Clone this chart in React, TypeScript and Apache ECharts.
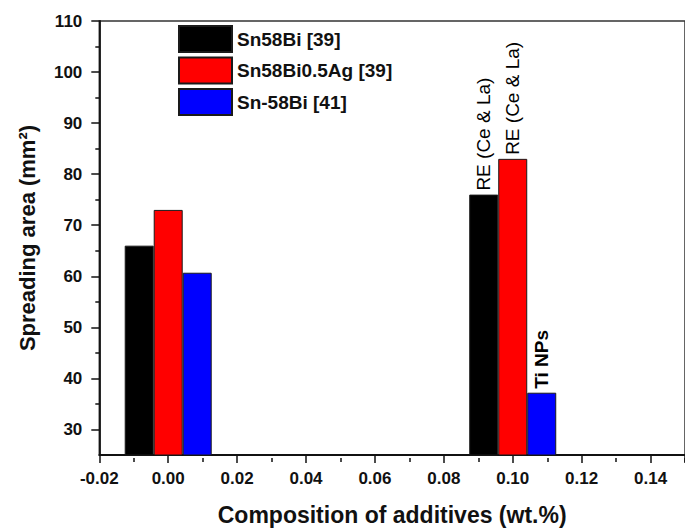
import React, { useEffect, useRef } from 'react';
import * as echarts from 'echarts';

const compositions = [0, 0.1];
const seriesNames = ['Sn58Bi [39]', 'Sn58Bi0.5Ag [39]', 'Sn-58Bi [41]'];
const sn58Bi39 = [66, 76];
const sn58BiAg39 = [73, 83];
const sn58Bi41 = [60.7, 37.2];
const notesSn58Bi39 = ['', 'RE (Ce & La)'];
const notesSn58BiAg39 = ['', 'RE (Ce & La)'];
const notesSn58Bi41 = ['', 'Ti NPs'];
const xTickValues = [-0.02, 0, 0.02, 0.04, 0.06, 0.08, 0.1, 0.12, 0.14];
const yTickValues = [30, 40, 50, 60, 70, 80, 90, 100, 110];
const yMinorTickValues = [35, 45, 55, 65, 75, 85, 95, 105];

const FONT = 'Arial, "Liberation Sans", Helvetica, sans-serif';
const X_MIN = -0.02;
const X_MAX = 0.15;
const X_STEP = 0.02;
const X_MINOR_MIN = -0.01;
const Y_MIN = 25;
const Y_MAX = 110;

const GRID_LEFT = 99.3;
const GRID_RIGHT = -6.5;
const GRID_TOP = 21;
const GRID_BOTTOM = 73;
const PLOT_W = 685 - GRID_LEFT - GRID_RIGHT;

function buildSeries(name: string, values: number[], notes: string[], color: string) {
  return {
    name,
    type: 'bar',
    xAxisIndex: 0,
    yAxisIndex: 0,
    barWidth: 29,
    barGap: '0%',
    itemStyle: { color, borderColor: '#1a1a1a', borderWidth: 1 },
    data: compositions.map((c, i) => ({
      value: [c, values[i]],
      label: {
        show: notes[i] !== '',
        formatter: notes[i],
        position: 'top',
        rotate: 90,
        align: 'left',
        verticalAlign: 'middle',
        distance: 4,
        fontSize: 19,
        fontFamily: FONT,
        fontWeight: notes[i] === 'Ti NPs' ? 'bold' : 'normal',
        color: '#000',
      },
    })),
  };
}

function tickAxis(min: number, max: number, position: string, values: number[], length: number) {
  return {
    type: 'value',
    min,
    max,
    position,
    axisLine: { show: false, onZero: false },
    axisTick: { show: true, customValues: values, length, lineStyle: { color: '#111', width: 1.5 } },
    axisLabel: { show: false },
    splitLine: { show: false },
  };
}

export default function App() {
  const ref = useRef<HTMLDivElement>(null);
  useEffect(() => {
    if (!ref.current) return;
    const chart = echarts.init(ref.current, null, { renderer: 'svg' });
    const axisLabelStyle = { fontSize: 17, fontWeight: 'bold', fontFamily: FONT, color: '#111' };
    // minor-tick grid: same plot area shifted so that its min sits at X_MINOR_MIN
    const minorShift = ((X_MINOR_MIN - X_MIN) / (X_MAX - X_MIN)) * PLOT_W;
    chart.setOption({
      animation: false,
      backgroundColor: '#fff',
      grid: [
        {
          left: GRID_LEFT,
          right: GRID_RIGHT,
          top: GRID_TOP,
          bottom: GRID_BOTTOM,
          show: true,
          borderColor: '#333',
          borderWidth: 1.5,
          backgroundColor: 'transparent',
        },
        {
          left: GRID_LEFT + minorShift,
          right: GRID_RIGHT,
          top: GRID_TOP,
          bottom: GRID_BOTTOM,
          show: false,
        },
      ],
      legend: {
        orient: 'vertical',
        left: 178,
        top: 25,
        padding: 0,
        itemWidth: 53,
        itemHeight: 26,
        itemGap: 3.5,
        icon: 'rect',
        data: seriesNames,
        textStyle: { fontSize: 19, fontWeight: 'bold', fontFamily: FONT, color: '#111' },
      },
      xAxis: [
        {
          type: 'value',
          gridIndex: 0,
          min: X_MIN,
          max: X_MAX,
          interval: X_STEP,
          position: 'bottom',
          name: 'Composition of additives (wt.%)',
          nameLocation: 'middle',
          nameGap: 48,
          nameTextStyle: { fontSize: 23, fontWeight: 'bold', fontFamily: FONT, color: '#111' },
          axisLine: { show: true, onZero: false, lineStyle: { color: '#111', width: 1.8 } },
          axisTick: { show: true, length: 8, lineStyle: { color: '#111', width: 1.5 } },
          axisLabel: {
            ...axisLabelStyle,
            customValues: xTickValues,
            margin: 15,
            formatter: (v: number) => v.toFixed(2),
          },
          splitLine: { show: false },
        },
        {
          type: 'value',
          gridIndex: 1,
          min: X_MINOR_MIN,
          max: X_MAX,
          interval: X_STEP,
          position: 'bottom',
          axisLine: { show: false, onZero: false },
          axisTick: { show: true, length: 4, lineStyle: { color: '#111', width: 1.5 } },
          axisLabel: { show: false },
          splitLine: { show: false },
        },
      ],
      yAxis: [
        {
          type: 'value',
          gridIndex: 0,
          min: Y_MIN,
          max: Y_MAX,
          position: 'left',
          name: 'Spreading area (mm²)',
          nameLocation: 'middle',
          nameGap: 61,
          nameRotate: 90,
          nameTextStyle: { fontSize: 22, fontWeight: 'bold', fontFamily: FONT, color: '#111' },
          axisLine: { show: true, onZero: false, lineStyle: { color: '#111', width: 1.8 } },
          axisTick: { show: false },
          axisLabel: {
            ...axisLabelStyle,
            customValues: yTickValues,
            margin: 17,
            formatter: (v: number) => String(v),
          },
          splitLine: { show: false },
        },
        tickAxis(Y_MIN, Y_MAX, 'left', yTickValues, 8),
        tickAxis(Y_MIN, Y_MAX, 'left', yMinorTickValues, 4),
        {
          type: 'value',
          gridIndex: 1,
          min: Y_MIN,
          max: Y_MAX,
          show: false,
        },
      ],
      series: [
        buildSeries(seriesNames[0], sn58Bi39, notesSn58Bi39, '#000000'),
        buildSeries(seriesNames[1], sn58BiAg39, notesSn58BiAg39, '#ff0000'),
        buildSeries(seriesNames[2], sn58Bi41, notesSn58Bi41, '#0000ff'),
      ],
    });
    return () => chart.dispose();
  }, []);
  return (
    <div
      ref={ref}
      style={{ position: 'fixed', left: 0, top: 0, width: 685, height: 531, background: '#fff' }}
    />
  );
}
